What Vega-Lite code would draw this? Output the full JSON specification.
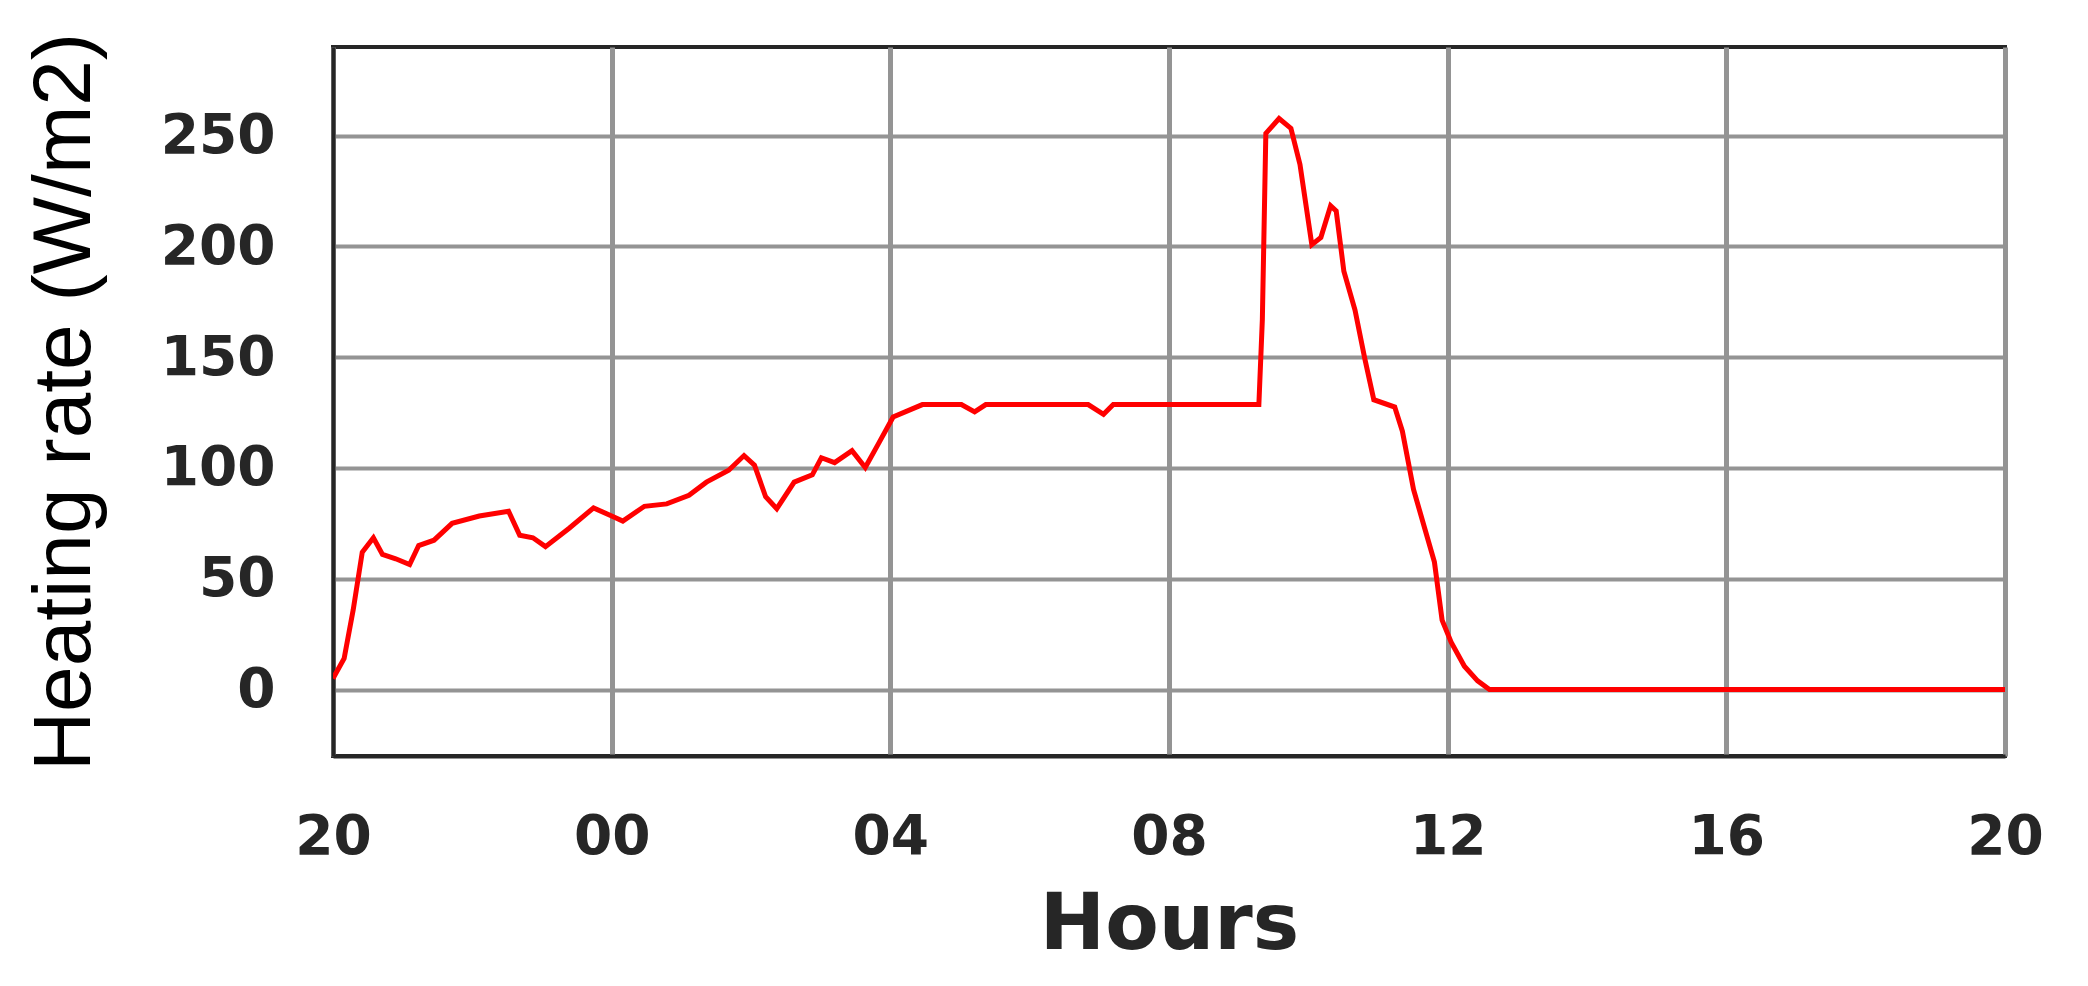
{
  "$schema": "https://vega.github.io/schema/vega-lite/v6.json",
  "width": 1672,
  "height": 709,
  "autosize": "none",
  "padding": {"left": 333, "top": 47, "right": 83, "bottom": 230},
  "background": "white",
  "config": {
    "view": {"stroke": "#262626", "strokeWidth": 4},
    "font": "Liberation Sans"
  },
  "data": {
    "values": [
      {"t": 0, "v": 5}, {"t": 0.16, "v": 14}, {"t": 0.29, "v": 36}, {"t": 0.42, "v": 62},
      {"t": 0.58, "v": 68.5}, {"t": 0.71, "v": 61}, {"t": 0.9, "v": 59}, {"t": 1.1, "v": 56.4},
      {"t": 1.23, "v": 65}, {"t": 1.45, "v": 67.4}, {"t": 1.71, "v": 75}, {"t": 2.1, "v": 78.3},
      {"t": 2.52, "v": 80.5}, {"t": 2.68, "v": 69.6}, {"t": 2.87, "v": 68.5}, {"t": 3.05, "v": 64.5},
      {"t": 3.39, "v": 72.8}, {"t": 3.74, "v": 82}, {"t": 4.0, "v": 78.3}, {"t": 4.16, "v": 76},
      {"t": 4.47, "v": 82.7}, {"t": 4.79, "v": 83.8}, {"t": 5.11, "v": 87.7}, {"t": 5.36, "v": 93.6},
      {"t": 5.68, "v": 99}, {"t": 5.9, "v": 105.6}, {"t": 6.05, "v": 101.3}, {"t": 6.21, "v": 87},
      {"t": 6.37, "v": 81.6}, {"t": 6.62, "v": 93.6}, {"t": 6.88, "v": 96.9}, {"t": 7.01, "v": 104.6},
      {"t": 7.2, "v": 102.4}, {"t": 7.45, "v": 107.8}, {"t": 7.64, "v": 100.2}, {"t": 7.83, "v": 111},
      {"t": 8.04, "v": 123}, {"t": 8.46, "v": 128.6}, {"t": 9.02, "v": 128.6}, {"t": 9.21, "v": 125.3},
      {"t": 9.37, "v": 128.6}, {"t": 10.84, "v": 128.6}, {"t": 11.06, "v": 124.2}, {"t": 11.2, "v": 128.6},
      {"t": 13.29, "v": 128.6}, {"t": 13.34, "v": 167}, {"t": 13.39, "v": 251}, {"t": 13.58, "v": 257.7},
      {"t": 13.75, "v": 253.3}, {"t": 13.88, "v": 237}, {"t": 14.05, "v": 200.8}, {"t": 14.18, "v": 204},
      {"t": 14.32, "v": 218.3}, {"t": 14.4, "v": 216}, {"t": 14.51, "v": 188.8}, {"t": 14.67, "v": 171.3},
      {"t": 14.81, "v": 149.4}, {"t": 14.94, "v": 130.8}, {"t": 15.24, "v": 127.5}, {"t": 15.35, "v": 116.6},
      {"t": 15.51, "v": 90.3}, {"t": 15.67, "v": 72.8}, {"t": 15.81, "v": 57.5}, {"t": 15.92, "v": 31.3},
      {"t": 16.05, "v": 21.4}, {"t": 16.24, "v": 10.5}, {"t": 16.43, "v": 3.9}, {"t": 16.6, "v": 0},
      {"t": 24, "v": 0}
    ]
  },
  "mark": {"type": "line", "color": "#ff0000", "strokeWidth": 5, "clip": true},
  "encoding": {
    "x": {
      "field": "t",
      "type": "quantitative",
      "scale": {"domain": [0, 24], "nice": false, "zero": false},
      "axis": {
        "values": [0, 4, 8, 12, 16, 20, 24],
        "labelExpr": "((datum.value + 20) % 24) < 10 ? '0' + ((datum.value + 20) % 24) : '' + ((datum.value + 20) % 24)",
        "title": "Hours",
        "titleFont": "DejaVu Sans",
        "titleFontSize": 78,
        "titleFontWeight": "bold",
        "titleColor": "#262626",
        "titlePadding": 22,
        "labelFont": "DejaVu Sans",
        "labelFontSize": 55,
        "labelFontWeight": "bold",
        "labelColor": "#262626",
        "labelPadding": 54,
        "labelFlush": false,
        "labelOverlap": false,
        "ticks": false,
        "domain": true,
        "domainColor": "#262626",
        "domainWidth": 4,
        "grid": true,
        "gridColor": "#949494",
        "gridWidth": 5,
        "gridOpacity": 1
      }
    },
    "y": {
      "field": "v",
      "type": "quantitative",
      "scale": {"domain": [-30, 290], "nice": false, "zero": false},
      "axis": {
        "values": [0, 50, 100, 150, 200, 250],
        "title": "Heating rate (W/m2)",
        "titleFont": "Liberation Sans",
        "titleFontSize": 82,
        "titleFontWeight": "normal",
        "titleColor": "#000000",
        "titlePadding": 54,
        "labelFont": "DejaVu Sans",
        "labelFontSize": 55,
        "labelFontWeight": "bold",
        "labelColor": "#262626",
        "labelPadding": 58,
        "labelFlush": false,
        "labelOverlap": false,
        "ticks": false,
        "domain": true,
        "domainColor": "#262626",
        "domainWidth": 4,
        "grid": true,
        "gridColor": "#949494",
        "gridWidth": 4,
        "gridOpacity": 1
      }
    }
  }
}
